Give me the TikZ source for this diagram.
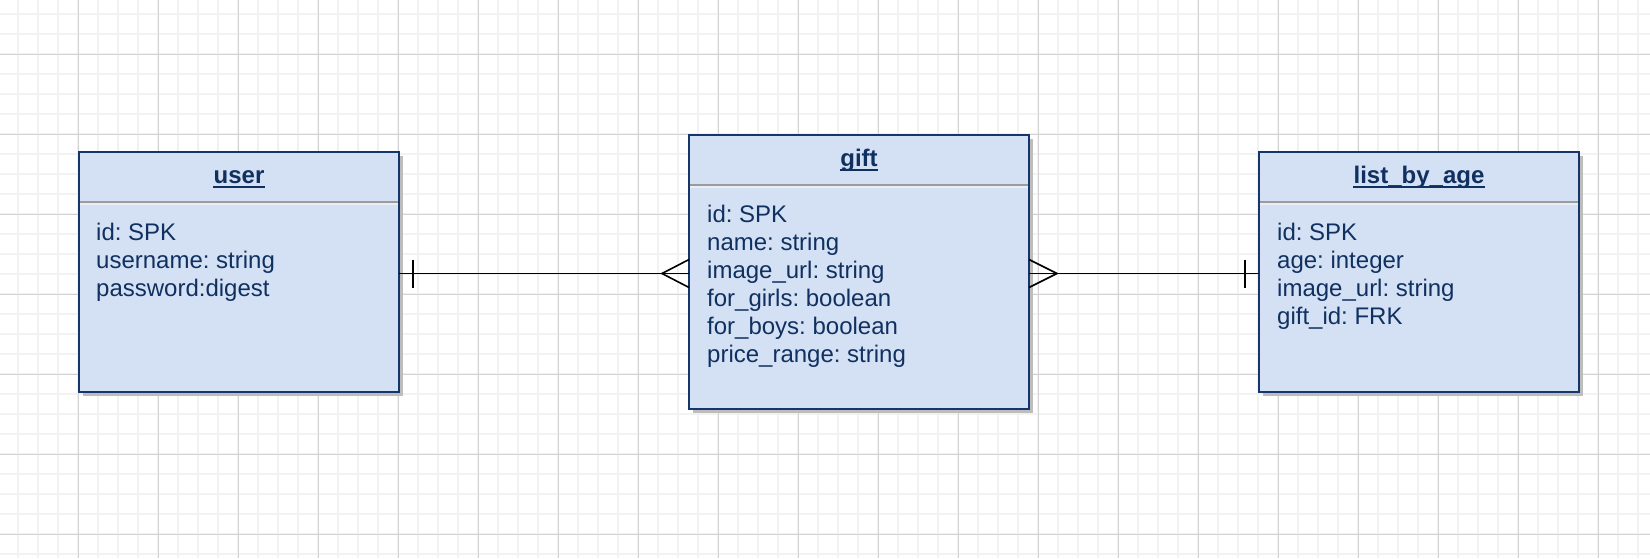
\documentclass[tikz,border=0pt]{standalone}
\usepackage{fontspec}
\setmainfont{Liberation Sans}
\usepackage{xcolor}
\usetikzlibrary{
    calc,
    shadows,
    positioning
}
\definecolor{boxfill}{HTML}{D4E1F5}
\definecolor{boxline}{HTML}{14366B}
\definecolor{boxtext}{HTML}{10305F}
\definecolor{boxshadow}{HTML}{BDBDBD}
\definecolor{sepgray}{HTML}{9B9B9B}
\definecolor{seplight}{HTML}{EAEEF4}
\definecolor{gridminor}{HTML}{F2F2F2}
\definecolor{gridmajor}{HTML}{D3D3D3}
\frenchspacing

\tikzset{
    table/.style={draw=boxline, line width=2pt, fill=boxfill, anchor=north west,
        inner sep=0pt, outer sep=0pt,
        drop shadow={shadow xshift=4pt, shadow yshift=-4pt, fill=boxshadow, opacity=1}},
    title/.style={text=boxtext, font=\fontsize{24}{28}\selectfont\bfseries,
        inner sep=0pt, anchor=base},
    fields/.style={text=boxtext, font=\fontsize{24}{28}\selectfont,
        align=left, inner sep=0pt, anchor=north west},
    uline/.style={draw=boxtext, line width=1.6pt},
    sepline/.style={draw=sepgray, line width=2pt},
    seplite/.style={draw=seplight, line width=2pt},
    relation/.style={draw=black, line width=1.6pt}
}

\begin{document}
\begin{tikzpicture}[x=1pt, y=-1pt]
                        \useasboundingbox (0,0) rectangle (1650,558);
                        \fill[white] (0,0) rectangle (1650,558);
                        % grid
                        \foreach \gx in {-2,18,...,1650}
                            \draw[gridminor, line width=1.6pt] (\gx,0) -- (\gx,558);
                        \foreach \gy in {-6,14,...,558}
                            \draw[gridminor, line width=1.6pt] (0,\gy) -- (1650,\gy);
                        \foreach \gx in {-2,78,...,1650}
                            \draw[gridmajor, line width=1pt] (\gx,0) -- (\gx,558);
                        \foreach \gy in {-26,54,...,558}
                            \draw[gridmajor, line width=1pt] (0,\gy) -- (1650,\gy);
                        % tables
                        \node[table, minimum width=320pt, minimum height=240pt] (user) at (79,152) {};
                        \node[table, minimum width=340pt, minimum height=274pt] (gift) at (689,135) {};
                        \node[table, minimum width=320pt, minimum height=240pt] (list) at (1259,152) {};
                        \draw[sepline] ($(user.north west)+(1,50)$) -- ($(user.north east)+(-1,50)$);
                        \draw[seplite] ($(user.north west)+(1,52)$) -- ($(user.north east)+(-1,52)$);
                        \draw[sepline] ($(gift.north west)+(1,50)$) -- ($(gift.north east)+(-1,50)$);
                        \draw[seplite] ($(gift.north west)+(1,52)$) -- ($(gift.north east)+(-1,52)$);
                        \draw[sepline] ($(list.north west)+(1,50)$) -- ($(list.north east)+(-1,50)$);
                        \draw[seplite] ($(list.north west)+(1,52)$) -- ($(list.north east)+(-1,52)$);
                        \node[title] (usertitle) at ($(user.north)+(0,31.5)$) {user};
                        \node[title] (gifttitle) at ($(gift.north)+(0,31.5)$) {gift};
                        \node[title] (listtitle) at ($(list.north)+(0,31.5)$) {list\_by\_age};
                        \draw[uline] ($(usertitle.base west)+(0,3.5)$) -- ($(usertitle.base east)+(0,3.5)$);
                        \draw[uline] ($(gifttitle.base west)+(0,3.5)$) -- ($(gifttitle.base east)+(0,3.5)$);
                        \draw[uline] ($(listtitle.base west)+(0,3.5)$) -- ($(listtitle.base east)+(0,3.5)$);
                        \node[fields] (userfields) at ($(user.north west)+(17,70.5)$)
                            {id: SPK\\username: string\\password:digest};
                        \node[fields] (giftfields) at ($(gift.north west)+(18,69.5)$)
                            {id: SPK\\name: string\\image\_url: string\\for\_girls: boolean\\for\_boys: boolean\\price\_range: string};
                        \node[fields] (listfields) at ($(list.north west)+(18,70.5)$)
                            {id: SPK\\age: integer\\image\_url: string\\gift\_id: FRK};
                        % relations
                        \coordinate (userside) at ($(user.east)+(0,1.5)$);
                        \coordinate (giftleft) at ($(gift.west)+(0,1.5)$);
                        \coordinate (giftright) at ($(gift.east)+(0,1.5)$);
                        \coordinate (listside) at ($(list.west)+(0,1.5)$);
                        \draw[relation] (userside) -- (giftleft);
                        \draw[relation] ($(userside)+(14,-14)$) -- ($(userside)+(14,14)$);
                        \draw[relation] ($(giftleft)+(0,-14)$) -- ($(giftleft)+(-27,0)$) -- ($(giftleft)+(0,14)$);
                        \draw[relation] (giftright) -- (listside);
                        \draw[relation] ($(giftright)+(0,-14)$) -- ($(giftright)+(28,0)$) -- ($(giftright)+(0,14)$);
                        \draw[relation] ($(listside)+(-14,-14)$) -- ($(listside)+(-14,14)$);
                    \end{tikzpicture}
\end{document}
